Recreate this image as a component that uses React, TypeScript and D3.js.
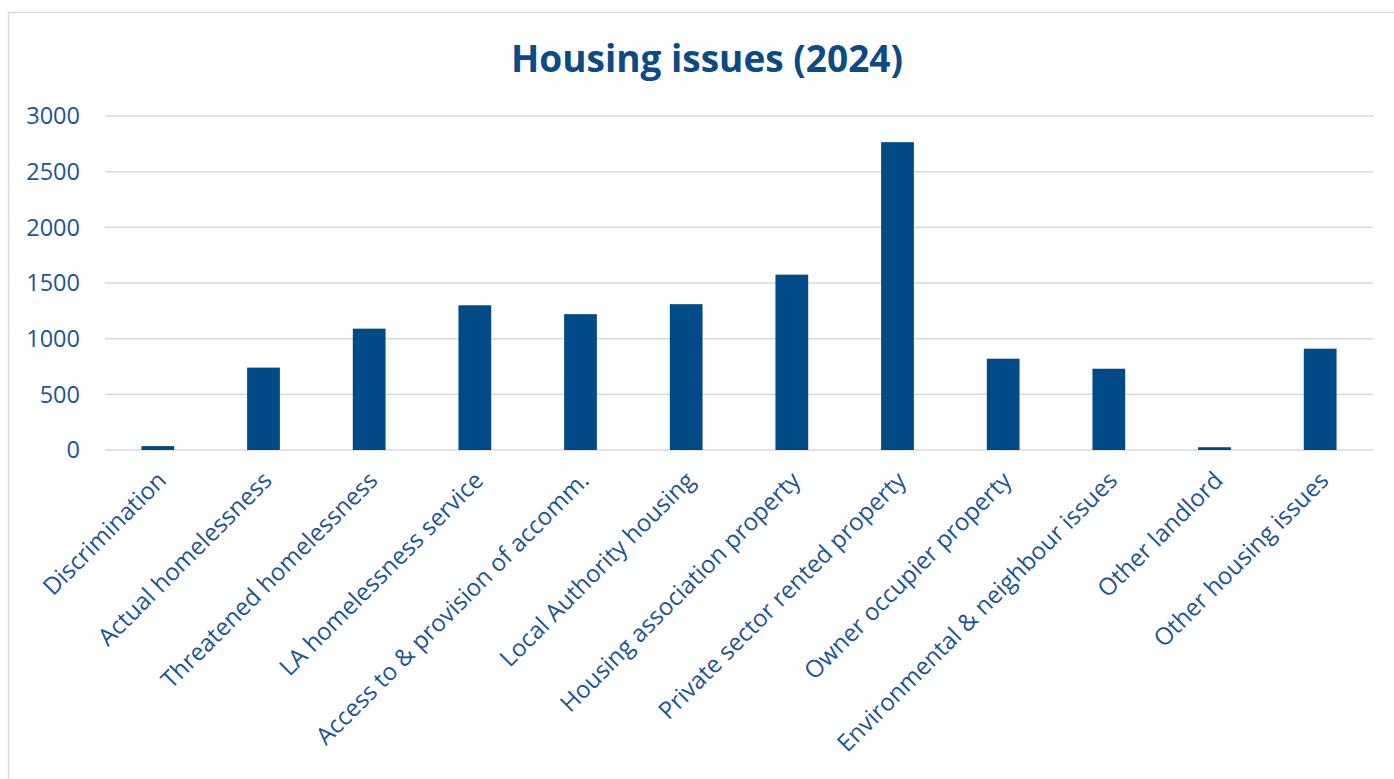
import React, { useEffect, useRef } from 'react';
import * as d3 from 'd3';

const categories = [
  'Discrimination',
  'Actual homelessness',
  'Threatened homelessness',
  'LA homelessness service',
  'Access to & provision of accomm.',
  'Local Authority housing',
  'Housing association property',
  'Private sector rented property',
  'Owner occupier property',
  'Environmental & neighbour issues',
  'Other landlord',
  'Other housing issues',
];

const counts = [35, 740, 1090, 1300, 1220, 1310, 1575, 2765, 820, 730, 25, 910];

const yTicks = [0, 500, 1000, 1500, 2000, 2500, 3000];

const W = 1394;
const H = 779;

export default function App() {
  const svgRef = useRef<SVGSVGElement>(null);

  useEffect(() => {
    if (!svgRef.current) return;
    const svg = d3.select(svgRef.current);
    svg.selectAll('*').remove();

    const font = '"Open Sans", "Noto Sans", sans-serif';
    const margin = { top: 116, right: 21, bottom: 329, left: 105 };

    // outer frame
    svg.append('rect')
      .attr('x', 8.5)
      .attr('y', 12.5)
      .attr('width', W + 20)
      .attr('height', H + 20)
      .attr('fill', '#fff')
      .attr('stroke', '#d9d9d9')
      .attr('stroke-width', 1.5);

    svg.append('text')
      .attr('x', 707)
      .attr('y', 72)
      .attr('text-anchor', 'middle')
      .attr('font-family', font)
      .attr('font-size', '37px')
      .attr('font-weight', 'bold')
      .attr('fill', '#0c4a86')
      .text('Housing issues (2024)');

    const x = d3.scaleBand<string>()
      .domain(categories)
      .range([margin.left, W - margin.right])
      .paddingInner(0.69)
      .paddingOuter(0.345);

    const y = d3.scaleLinear()
      .domain([0, 3000])
      .range([H - margin.bottom, margin.top]);

    // gridlines
    svg.append('g')
      .selectAll('line')
      .data(yTicks)
      .enter()
      .append('line')
      .attr('x1', margin.left)
      .attr('x2', W - margin.right)
      .attr('y1', (d) => y(d))
      .attr('y2', (d) => y(d))
      .attr('stroke', '#d9d9d9')
      .attr('stroke-width', 1.5);

    // y labels
    svg.append('g')
      .selectAll('text')
      .data(yTicks)
      .enter()
      .append('text')
      .attr('x', 80)
      .attr('y', (d) => y(d))
      .attr('dy', '0.35em')
      .attr('text-anchor', 'end')
      .attr('font-family', font)
      .attr('font-size', '23.5px')
      .attr('fill', '#1b5592')
      .text((d) => String(d));

    // bars
    svg.append('g')
      .selectAll('rect')
      .data(counts)
      .enter()
      .append('rect')
      .attr('x', (_, i) => x(categories[i])!)
      .attr('y', (d) => y(d))
      .attr('width', x.bandwidth())
      .attr('height', (d) => y(0) - y(d))
      .attr('fill', '#004b87');

    // category labels, rotated
    svg.append('g')
      .selectAll('text')
      .data(categories)
      .enter()
      .append('text')
      .attr('transform', (d) => `translate(${x(d)! + x.bandwidth() / 2 + 4},${H - margin.bottom + 26}) rotate(-45)`)
      .attr('text-anchor', 'end')
      .attr('dy', '0.35em')
      .attr('font-family', font)
      .attr('font-size', '24px')
      .attr('fill', '#1b5592')
      .text((d) => d);
  }, []);

  return (
    <svg
      ref={svgRef}
      width={W}
      height={H}
      style={{ position: 'absolute', left: 0, top: 0, background: '#fff' }}
    />
  );
}
